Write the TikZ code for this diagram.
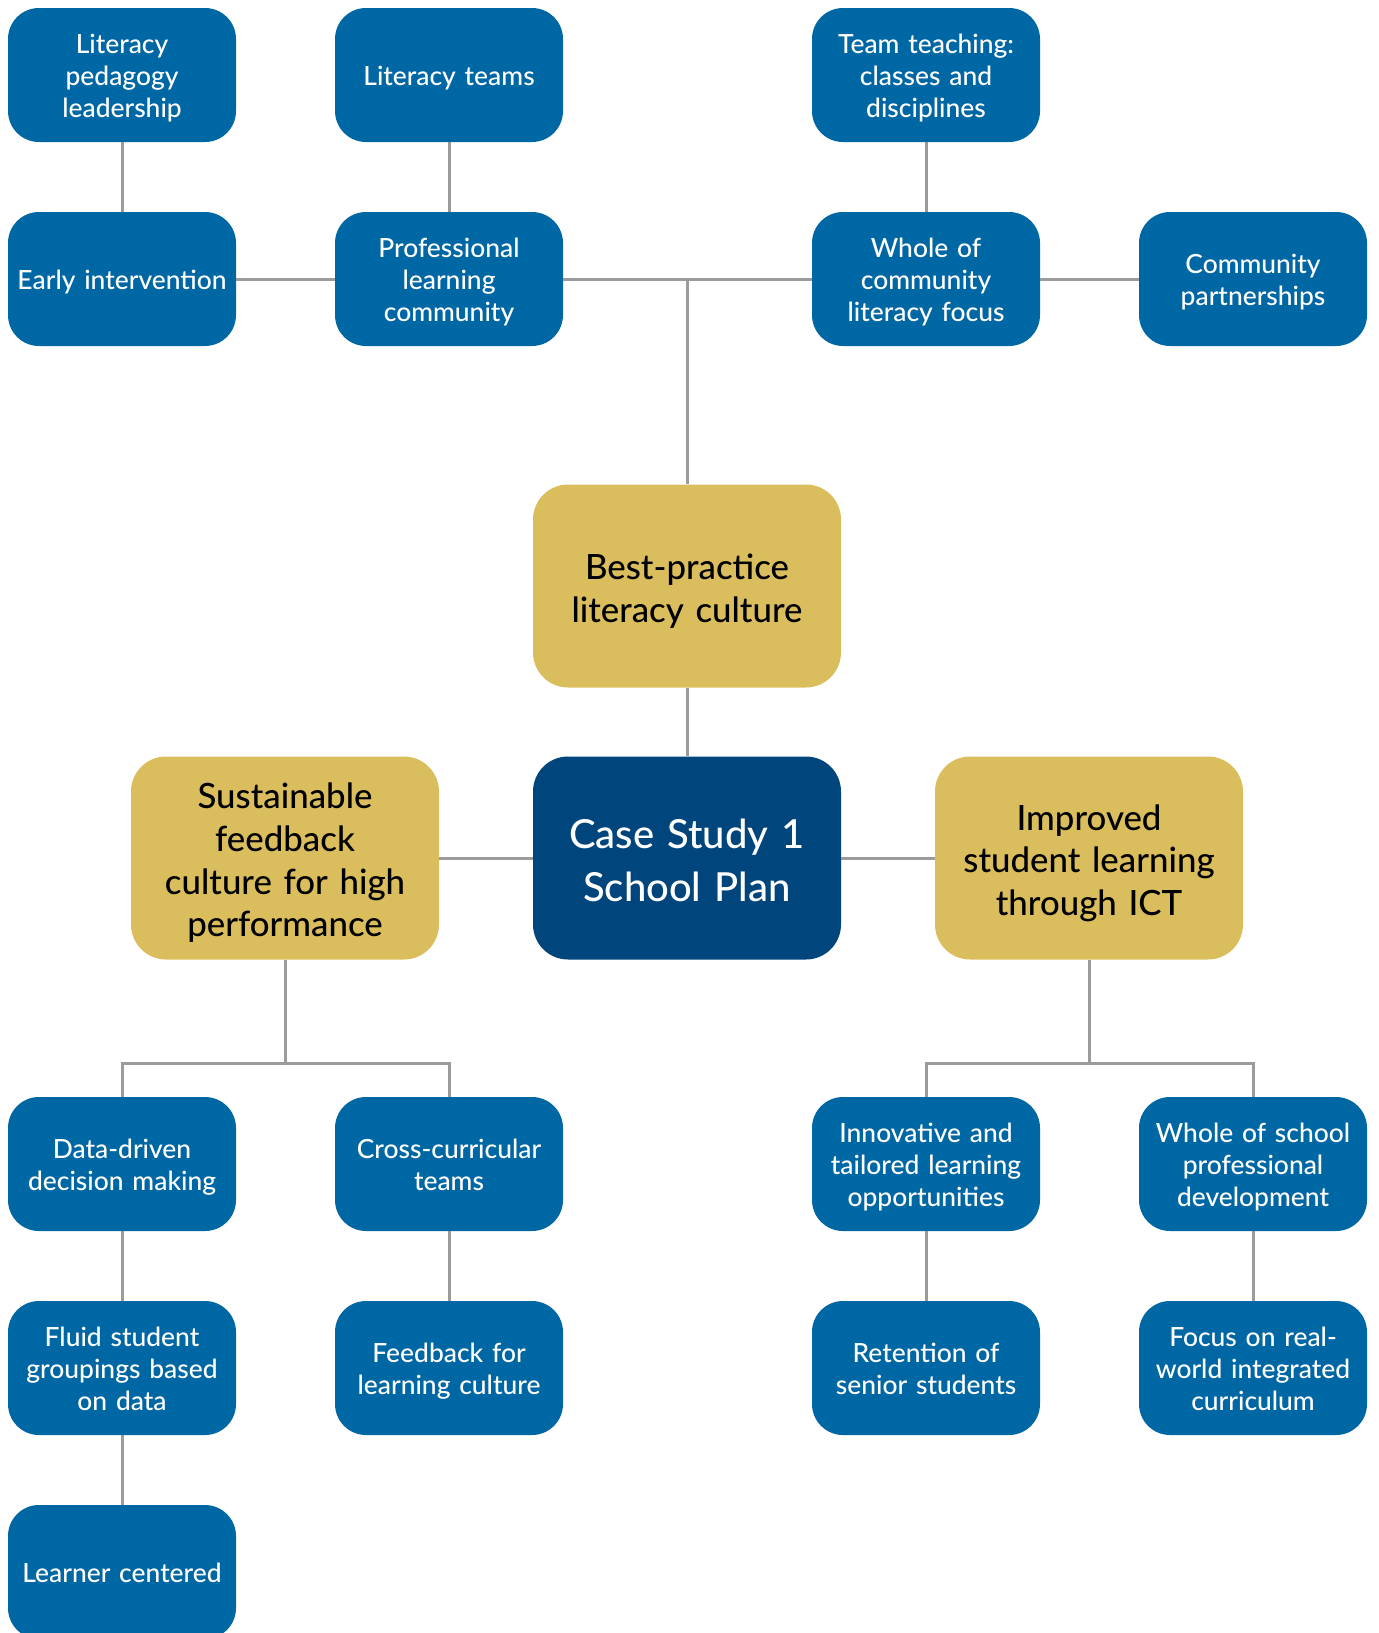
\documentclass[tikz,border=0pt]{standalone}
\usepackage{fontspec}
\setmainfont{Lato}[UprightFont={* Medium}]
\usetikzlibrary{positioning,calc}
\definecolor{planblue}{RGB}{0,103,165}
\definecolor{plannavy}{RGB}{0,69,124}
\definecolor{plangold}{RGB}{218,190,94}
\definecolor{wire}{RGB}{155,155,158}
\tikzset{
  struts/.style 2 args={execute at begin node={\rule{0pt}{#1}},
    execute at end node={\rule[-#2]{0pt}{0pt}}},
  leaf/.style={fill=planblue,text=white,rounded corners=15.5pt,minimum width=114pt,
    minimum height=67pt,text width=108pt,align=center,inner sep=2pt,
    font=\fontsize{13.2}{15.9}\selectfont,struts={13.4pt}{3pt}},
  goal/.style={fill=plangold,text=black,rounded corners=17.5pt,minimum width=154pt,
    minimum height=101.5pt,text width=146pt,align=center,inner sep=2pt,
    font=\fontsize{17.4}{21.3}\selectfont,struts={18.8pt}{4pt}},
  hub/.style={fill=plannavy,text=white,rounded corners=17.5pt,minimum width=154pt,
    minimum height=101.5pt,text width=146pt,align=center,inner sep=2pt,
    font=\fontsize{20}{26.5}\selectfont,struts={21.3pt}{4.5pt}},
  link/.style={draw=wire,line width=1.5pt},
}
\begin{document}
\begin{tikzpicture}[x=0.5pt,y=-0.5pt]
  \useasboundingbox (0,0) rectangle (1379,1633);
  % top cluster
  \node[leaf] (lped) at (122,75) {Literacy\\pedagogy\\leadership};
  \node[leaf] (lteam) at (449,75) {Literacy teams};
  \node[leaf] (tteach) at (926,75) {Team teaching:\\classes and\\disciplines};
  \node[leaf] (early) at (122,279) {Early intervention};
  \node[leaf] (plc) at (449,279) {Professional\\learning\\community};
  \node[leaf] (whcom) at (926,279) {Whole of\\community\\literacy focus};
  \node[leaf] (cpart) at (1253,279) {Community\\partnerships};
  % centre row
  \node[goal] (best) at (687,586) {Best-practice\\literacy culture};
  \node[hub] (plan) at (687,858) {Case Study 1\\School Plan};
  \node[goal] (feed) at (285,858) {Sustainable\\feedback\\culture for high\\performance};
  \node[goal] (ict) at (1089,858) {Improved\\student learning\\through ICT};
  % bottom cluster
  \node[leaf] (data) at (122,1164) {Data-driven\\decision making};
  \node[leaf] (cross) at (449,1164) {Cross-curricular\\teams};
  \node[leaf] (innov) at (926,1164) {Innovative and\\tailored learning\\opportunities};
  \node[leaf] (whsch) at (1253,1164) {Whole of school\\professional\\development};
  \node[leaf] (fluid) at (122,1368) {Fluid student\\groupings based\\on data};
  \node[leaf] (fblc) at (449,1368) {Feedback for\\learning culture};
  \node[leaf] (reten) at (926,1368) {Retention of\\senior students};
  \node[leaf] (realw) at (1253,1368) {Focus on real-\\world integrated\\curriculum};
  \node[leaf] (lcent) at (122,1572) {Learner centered};
  \coordinate (lbus) at (285,1063);
  \coordinate (rbus) at (1089,1063);
  % connectors
  \draw[link] (lped) -- (early);
  \draw[link] (lteam) -- (plc);
  \draw[link] (tteach) -- (whcom);
  \draw[link] (early) -- (plc);
  \draw[link] (plc) -- (whcom);
  \draw[link] (whcom) -- (cpart);
  \draw[link] (best.north) -- (best.north |- plc.east);
  \draw[link] (best) -- (plan);
  \draw[link] (feed) -- (plan);
  \draw[link] (plan) -- (ict);
  \draw[link] (feed.south) -- (lbus);
  \draw[link] (data.north) |- (lbus) -| (cross.north);
  \draw[link] (ict.south) -- (rbus);
  \draw[link] (innov.north) |- (rbus) -| (whsch.north);
  \draw[link] (data) -- (fluid);
  \draw[link] (fluid) -- (lcent);
  \draw[link] (cross) -- (fblc);
  \draw[link] (innov) -- (reten);
  \draw[link] (whsch) -- (realw);
\end{tikzpicture}
\end{document}
